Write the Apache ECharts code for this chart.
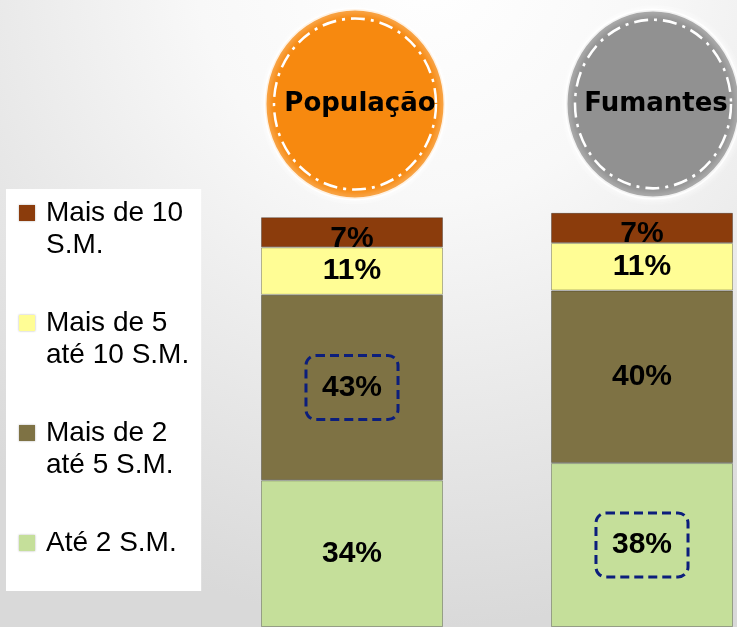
<!DOCTYPE html>
<html>
<head>
<meta charset="utf-8">
<script src="https://cdn.jsdelivr.net/npm/echarts@6/dist/echarts.min.js"></script>
<style>
  html, body { margin: 0; padding: 0; }
  #chart { width: 737px; height: 627px; }
</style>
</head>
<body>
<div id="chart"></div>
<script>
// categorias (os dois grupos)
const categories = ["População", "Fumantes"];
// faixas de renda, de baixo para cima
const seriesNames = ["Até 2 S.M.", "Mais de 2\naté 5 S.M.", "Mais de 5\naté 10 S.M.", "Mais de 10\nS.M."];
const ate2 = [34, 38];
const de2a5 = [43, 40];
const de5a10 = [11, 11];
const mais10 = [7, 7];
// valores destacados com moldura tracejada: [série, categoria]
const boxedCells = [[1, 0], [0, 1]];

const colors = ["#C5DF9A", "#7E7244", "#FFFD95", "#8B3C0C"];
const values = [ate2, de2a5, de5a10, mais10];

const boxLabel = {
  borderColor: "#0C1E7C",
  borderWidth: 3,
  borderType: [9, 5],
  borderRadius: 10,
  padding: [17, 16],
};

const myChart = echarts.init(document.getElementById("chart"));

const series = values.map((vals, s) => ({
  name: seriesNames[s],
  type: "bar",
  stack: "total",
  barWidth: 182,
  clip: false,
  itemStyle: {
    color: colors[s],
    borderColor: "rgba(0,0,0,0.28)",
    borderWidth: 1,
  },
  label: {
    show: true,
    position: "inside",
    formatter: "{c}%",
    color: "#000",
    fontFamily: "Liberation Sans",
    fontWeight: "bold",
    fontSize: 30,
    offset: s === 3 ? [0, 6] : [0, 0],
  },
  data: vals.map((v, c) => {
    const boxed = boxedCells.some((b) => b[0] === s && b[1] === c);
    return boxed ? { value: v, label: boxLabel } : v;
  }),
}));

// círculo decorativo com anel tracejado
function badge(cx, cy, rx, ry, fill, text, tx) {
  const sy = ry / rx;
  return [
    {
      type: "circle",
      x: cx, y: cy, scaleY: sy,
      shape: { cx: 0, cy: 0, r: rx },
      style: {
        fill: fill,
        stroke: "rgba(255,255,255,0.85)",
        lineWidth: 3,
        shadowBlur: 8,
        shadowColor: "rgba(255,255,255,1)",
      },
    },
    {
      type: "circle",
      x: cx, y: cy, scaleY: sy,
      shape: { cx: 0, cy: 0, r: rx - 9 },
      style: { fill: null, stroke: "#fff", lineWidth: 2.5, lineDash: [14, 6, 3, 6] },
    },
    {
      type: "text",
      style: {
        text: text,
        x: tx,
        y: cy,
        textAlign: "center",
        textVerticalAlign: "middle",
        font: 'bold 26px "DejaVu Sans"',
        fill: "#000",
      },
    },
  ];
}

myChart.setOption({
  backgroundColor: {
    type: "radial",
    x: 0.58,
    y: -0.05,
    r: 1.05,
    colorStops: [
      { offset: 0, color: "#ffffff" },
      { offset: 0.35, color: "#f8f8f8" },
      { offset: 1, color: "#d9d9d9" },
    ],
  },
  animation: false,
  grid: { left: 352, right: 95, top: 215, bottom: -6 },
  xAxis: {
    type: "category",
    data: categories,
    boundaryGap: false,
    show: false,
  },
  yAxis: {
    type: "value",
    min: 0,
    max: 95.5,
    show: false,
  },
  legend: {
    orient: "vertical",
    left: 6,
    top: 189,
    padding: [8, 12, 0, 13],
    backgroundColor: "#ffffff",
    itemGap: 46,
    itemWidth: 22,
    itemHeight: 48,
    icon: "path://M0 0H16V16H0Z M22 48",
    itemStyle: { borderWidth: 0, shadowBlur: 2, shadowColor: "rgba(0,0,0,0.3)" },
    data: seriesNames.slice().reverse(),
    formatter: (name) => (name.indexOf("\n") < 0 ? name + "\n " : name),
    textStyle: {
      fontFamily: "Liberation Sans",
      fontSize: 28,
      lineHeight: 32,
      color: "#000",
    },
  },
  graphic: [].concat(
    badge(355, 104, 90, 95, "#F7890F", categories[0], 360),
    badge(653, 104, 87, 94, "#919191", categories[1], 656)
  ),
  series: series,
});
</script>
</body>
</html>
